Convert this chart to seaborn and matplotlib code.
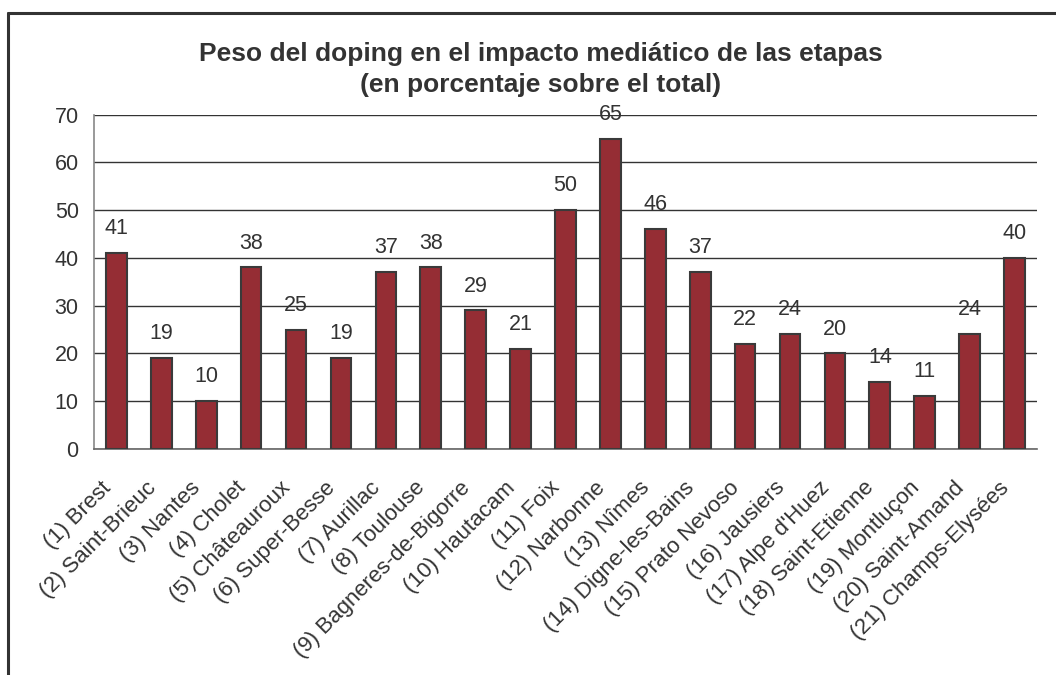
import matplotlib
matplotlib.use("Agg")
import matplotlib.pyplot as plt
import matplotlib.transforms as mtransforms
import seaborn as sns
import pandas as pd
import numpy as np
from matplotlib.lines import Line2D

# data
etapas = ["(1) Brest", "(2) Saint-Brieuc", "(3) Nantes", "(4) Cholet",
          "(5) Châteauroux", "(6) Super-Besse", "(7) Aurillac", "(8) Toulouse",
          "(9) Bagneres-de-Bigorre", "(10) Hautacam", "(11) Foix",
          "(12) Narbonne", "(13) Nîmes", "(14) Digne-les-Bains",
          "(15) Prato Nevoso", "(16) Jausiers", "(17) Alpe d'Huez",
          "(18) Saint-Etienne", "(19) Montluçon", "(20) Saint-Amand",
          "(21) Champs-Elysées"]
peso = [41, 19, 10, 38, 25, 19, 37, 38, 29, 21, 50, 65, 46, 37, 22, 24, 20, 14, 11, 24, 40]
y_ticks = [0, 10, 20, 30, 40, 50, 60, 70]

title = "Peso del doping en el impacto mediático de las etapas\n(en porcentaje sobre el total)"

sns.set_style("white")
plt.rcParams['font.family'] = ['Liberation Sans', 'DejaVu Sans']
text_col = "#333333"

df = pd.DataFrame({"etapa": etapas, "peso": peso})

fig = plt.figure(figsize=(10.56, 6.75), dpi=100)
ax = fig.add_axes([0.089, 0.335, 0.893, 0.495])

sns.barplot(data=df, x="etapa", y="peso", color="#952d34", saturation=1,
            width=0.46, edgecolor="#3a3a3a", linewidth=1.5, ax=ax, zorder=3)

ax.set_ylim(0, 70)
ax.set_xlim(-0.5, len(etapas) - 0.5)
ax.set_yticks(y_ticks)
ax.set_yticklabels([str(t) for t in y_ticks], fontsize=15.5, color=text_col)
ax.yaxis.grid(True, color="#333333", linewidth=1, zorder=0)
ax.set_axisbelow(True)

# category labels, and ticks between categories like the original
ax.set_xticks(range(len(etapas)))
ax.set_xticklabels(etapas, rotation=45, ha="right", rotation_mode="anchor",
                   fontsize=16, color=text_col)
ax.tick_params(axis="x", which="major", length=0, pad=14)
shift = mtransforms.ScaledTranslation(-0.16, -0.09, fig.dpi_scale_trans)
for lbl in ax.get_xticklabels():
    lbl.set_transform(lbl.get_transform() + shift)
ax.set_xticks(np.arange(-0.5, len(etapas)), minor=True)
ax.tick_params(axis="x", which="minor", length=6, color="#888888", width=1)
ax.tick_params(axis="y", length=5, color="#555555", width=1, pad=6)
ax.set_xlabel("")
ax.set_ylabel("")

for side in ["top", "right"]:
    ax.spines[side].set_visible(False)
ax.spines["left"].set_color("#888888")
ax.spines["bottom"].set_color("#666666")
ax.spines["left"].set_linewidth(1.2)
ax.spines["bottom"].set_linewidth(1.2)

ax.bar_label(ax.containers[0], labels=[str(v) for v in peso], padding=10,
             fontsize=15.5, color=text_col)

fig.text(0.512, 0.897, title, ha="center", va="center", fontsize=19,
         fontweight="bold", color=text_col, linespacing=1.4)

# outer frame (left and top edges visible in the reference)
fig.add_artist(Line2D([0.0075, 0.0075], [0, 0.981], color="#333333", lw=2.2,
                      transform=fig.transFigure))
fig.add_artist(Line2D([0.0075, 1], [0.981, 0.981], color="#333333", lw=2.2,
                      transform=fig.transFigure))

fig.savefig("out.png", dpi=100)
